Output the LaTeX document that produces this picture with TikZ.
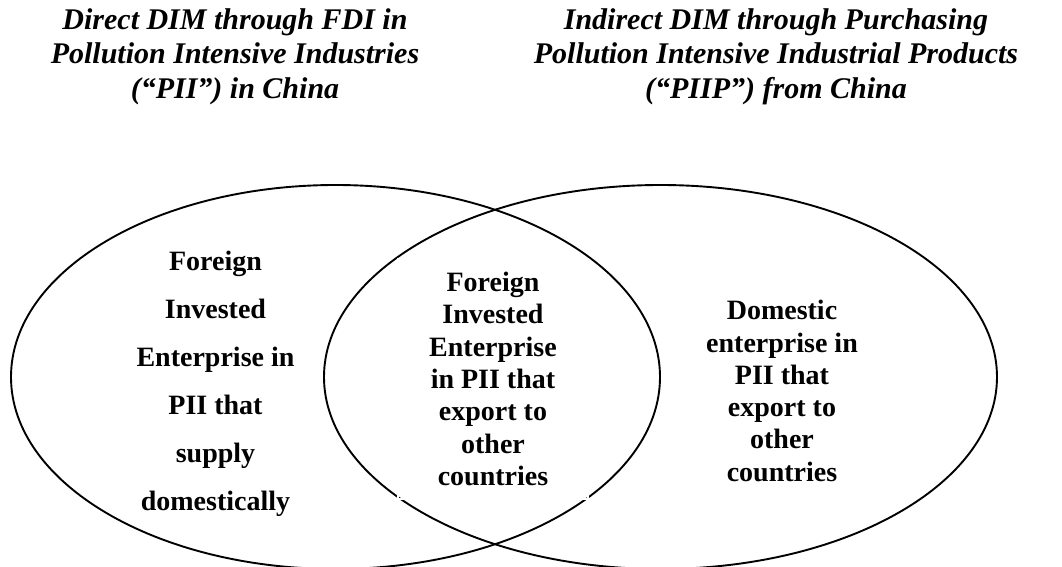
\documentclass[tikz,border=0pt]{standalone}
\usepackage{fontspec}
\setmainfont{Liberation Serif}
\usetikzlibrary{positioning, shapes.geometric}

\begin{document}
\begin{tikzpicture}[x = 0.5pt, y = -0.5pt]
\begin{scope}[
	heading/.style={
		font=\bfseries\itshape\fontsize{15}{17.25}\selectfont,
		align=center, inner sep=0pt, anchor=north
	},
	setring/.style={
		draw, ellipse, line width=0.95pt, inner sep=0pt, minimum height=192pt
	},
	areatext/.style={
		font=\bfseries\fontsize{14}{16.15}\selectfont,
		align=center, inner sep=0pt
	}
]
\useasboundingbox (0, 0) rectangle (1062, 567);
\fill[white] (0, 0) rectangle (1062, 567);

\node[heading] (head-direct) at (235, 8) {Direct DIM through FDI in\\Pollution Intensive Industries\\(“PII”) in China};
\node[heading] (head-indirect) at (776, 8) {Indirect DIM through Purchasing\\Pollution Intensive Industrial Products\\(“PIIP”) from China};

\node[setring, minimum width=324.5pt] (direct) at (335.5, 377) {};
\node[setring, minimum width=336.5pt] (indirect) at (660.5, 377) {};

\node[areatext, font=\bfseries\fontsize{14}{24}\selectfont] (fie-home) at (215.5, 384)
	{Foreign\\Invested\\Enterprise in\\PII that\\supply\\domestically};
\node[areatext, draw=white, line width=1pt, minimum width=95pt, minimum height=120pt] (fie-export) at (493, 379)
	{Foreign\\Invested\\Enterprise\\in PII that\\export to\\other\\countries};
\node[areatext] (de-export) at (782, 391)
	{Domestic\\enterprise in\\PII that\\export to\\other\\countries};
\end{scope}
\end{tikzpicture}
\end{document}
